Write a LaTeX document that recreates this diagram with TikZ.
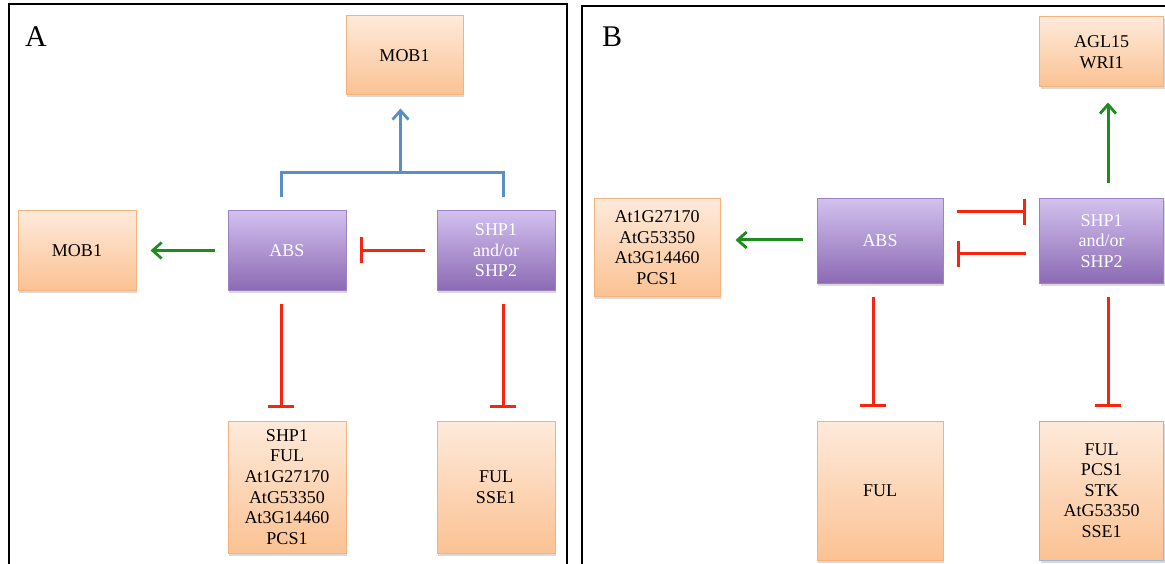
\documentclass[tikz,border=0pt]{standalone}
\usepackage{fontspec}
\setmainfont{Liberation Serif}
\newfontfamily\boxfont{Liberation Serif}
\usetikzlibrary{arrows.meta,shadows,calc}
\definecolor{orTop}{HTML}{FEEADB}
\definecolor{orBot}{HTML}{FBC293}
\definecolor{orBorder}{HTML}{F5B27A}
\definecolor{puTop}{HTML}{D2C0EE}
\definecolor{puBot}{HTML}{8C6AB4}
\definecolor{puBorder}{HTML}{9A82C4}
\definecolor{blBorder}{HTML}{9DB7D8}
\definecolor{redL}{HTML}{F5250F}
\definecolor{greenL}{HTML}{1E8C1E}
\definecolor{blueL}{HTML}{5B8EC6}
\tikzset{
  basebox/.style={line width=1pt, inner sep=0pt, align=center,
    font={\boxfont\fontsize{18}{20.6}\selectfont},
    drop shadow={opacity=0.3, shadow xshift=1pt, shadow yshift=-2.5pt}},
  obox/.style={basebox, draw=orBorder, top color=orTop, bottom color=orBot, text=black},
  pbox/.style={basebox, draw=puBorder, top color=puTop, bottom color=puBot, text=white},
  panellabel/.style={anchor=base west, inner sep=0pt, font=\fontsize{30}{30}\selectfont},
  frameline/.style={line width=2pt, black},
  actgreen/.style={line width=3pt, greenL, -{Straight Barb[length=9pt,width=16pt,line width=2.8pt]}},
  actblue/.style={line width=3pt, blueL, -{Straight Barb[length=9pt,width=16pt,line width=2.8pt]}},
  bracketblue/.style={line width=3pt, blueL},
  inhib/.style={line width=3pt, redL, -{Bar[width=26pt,line width=3pt]}},
}
\begin{document}
\begin{tikzpicture}[x=1pt,y=-1pt]
\useasboundingbox (0,0) rectangle (1165,564);
% frames
\draw[frameline] (9,564) -- (9,4) -- (567,4) -- (567,564);
\draw[frameline] (582,564) -- (582,6) -- (1166,6);
\node[panellabel] (labA) at (25,47) {A};
\node[panellabel] (labB) at (602,47) {B};

% ---- Panel A ----
\node[obox, minimum width=117pt, minimum height=79pt] (mobT) at (404.5,55.5) {MOB1};
\node[obox, minimum width=118pt, minimum height=79pt] (mobL) at (77,250.5) {MOB1};
\node[pbox, minimum width=118pt, minimum height=79pt] (absA) at (287,250.5) {ABS};
\node[pbox, minimum width=118pt, minimum height=79pt] (shpA) at (496,250.5) {SHP1\\and/or\\SHP2};
\node[obox, minimum width=118pt, minimum height=132pt] (botA1) at (287,487) {SHP1\\FUL\\At1G27170\\AtG53350\\At3G14460\\PCS1};
\node[obox, minimum width=118pt, minimum height=132pt] (botA2) at (496,487) {FUL\\SSE1};

\coordinate (bl) at ($(absA.north)+(-6,-13)$);
\coordinate (br) at ($(shpA.north)+(7,-13)$);
\coordinate (junc) at ($(mobT.south)+(-4,77)$);
\draw[bracketblue] (bl) |- (junc) -| (br);
\draw[actblue, shorten >=13pt] (junc) -- ([xshift=-4pt]mobT.south);

\draw[actgreen, shorten <=13pt, shorten >=14pt] (absA.west) -- (mobL.east);
\draw[inhib, shorten <=12pt, shorten >=13pt] (shpA.west) -- (absA.east);
\draw[inhib, shorten <=13pt, shorten >=13pt] ([xshift=-6pt]absA.south) -- ([xshift=-6pt]botA1.north);
\draw[inhib, shorten <=13pt, shorten >=13pt] ([xshift=7pt]shpA.south) -- ([xshift=7pt]botA2.north);

% ---- Panel B ----
\node[obox, minimum width=124pt, minimum height=70pt] (aglB) at (1101.5,52) {AGL15\\WRI1};
\node[obox, minimum width=126pt, minimum height=97pt] (atB) at (657,247.5) {At1G27170\\AtG53350\\At3G14460\\PCS1};
\node[pbox, minimum width=126pt, minimum height=84pt] (absB) at (880,241) {ABS};
\node[pbox, minimum width=124pt, minimum height=84pt] (shpB) at (1101.5,241) {SHP1\\and/or\\SHP2};
\node[obox, minimum width=126pt, minimum height=139pt] (fulB) at (880,490.5) {FUL};
\node[obox, draw=blBorder, minimum width=124pt, minimum height=139pt] (botB2) at (1101.5,490.5) {FUL\\PCS1\\STK\\AtG53350\\SSE1};

\draw[actgreen, shorten <=15pt, shorten >=15pt] ([xshift=6.5pt]shpB.north) -- ([xshift=6.5pt]aglB.south);
\draw[actgreen, shorten <=14pt, shorten >=15pt] ([yshift=1pt]absB.west) -- ([yshift=1pt]absB.west -| atB.east);
\draw[inhib, shorten <=13pt, shorten >=13pt] ([yshift=29pt]absB.east) -- ([yshift=29pt]shpB.west);
\draw[inhib, shorten <=13pt, shorten >=13pt] ([yshift=-13pt]shpB.west) -- ([yshift=-13pt]absB.east);
\draw[inhib, shorten <=13pt, shorten >=14pt] ([xshift=-7pt]absB.south) -- ([xshift=-7pt]fulB.north);
\draw[inhib, shorten <=13pt, shorten >=14pt] ([xshift=6.5pt]shpB.south) -- ([xshift=6.5pt]botB2.north);
\end{tikzpicture}
\end{document}
